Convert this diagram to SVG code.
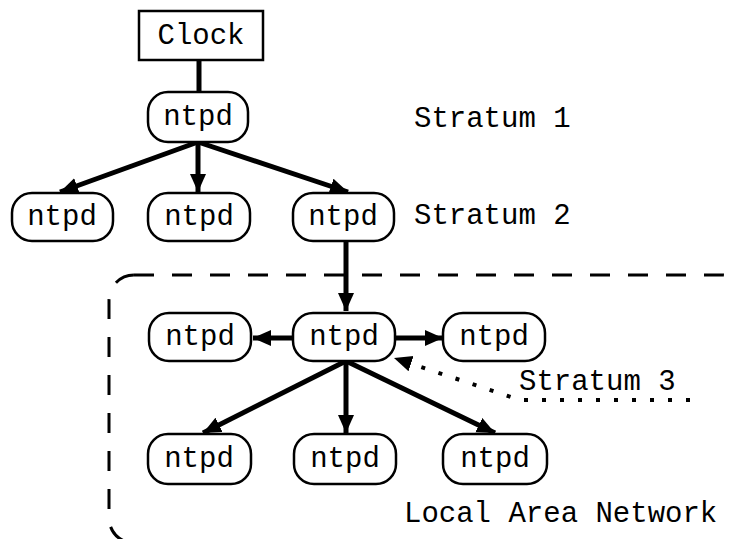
<svg xmlns="http://www.w3.org/2000/svg" width="732" height="539" viewBox="0 0 732 539">
<style>
.box{fill:#fff;stroke:#000;stroke-width:2.5}
.t{font-family:"Liberation Mono","Courier New",monospace;font-size:29px;fill:#000}
.c{text-anchor:middle}
.e{stroke:#000;stroke-width:5;fill:none}
.d{stroke:#000;stroke-width:4;fill:none;stroke-dasharray:4 14}
.lan{stroke:#000;stroke-width:3;fill:none;stroke-dasharray:20 18}
</style>
<defs>
<marker id="ah" markerUnits="userSpaceOnUse" markerWidth="20" markerHeight="18" refX="18" refY="8" orient="auto">
<path d="M0,0 L18,8 L0,16 Z" fill="#000"/>
</marker>
</defs>
<rect class="lan" x="109" y="275" width="638" height="268" rx="25"/>
<g id="connectors">
<line class="e" x1="199" y1="60" x2="199" y2="92"/>
<line class="e" x1="198" y1="142" x2="60" y2="192" marker-end="url(#ah)"/>
<line class="e" x1="198" y1="142" x2="198" y2="192" marker-end="url(#ah)"/>
<line class="e" x1="198" y1="142" x2="348" y2="192" marker-end="url(#ah)"/>
<line class="e" x1="346" y1="241" x2="346" y2="311" marker-end="url(#ah)"/>
<line class="e" x1="293" y1="338" x2="253" y2="338" marker-end="url(#ah)"/>
<line class="e" x1="395" y1="338" x2="443" y2="338" marker-end="url(#ah)"/>
<line class="e" x1="346" y1="361" x2="203" y2="433" marker-end="url(#ah)"/>
<line class="e" x1="346" y1="361" x2="346" y2="433" marker-end="url(#ah)"/>
<line class="e" x1="346" y1="361" x2="495" y2="433" marker-end="url(#ah)"/>
<polyline class="d" points="690,400 520,400 394,358" marker-end="url(#ah)"/>
</g>
<g id="clock"><rect class="box" x="139" y="11" width="124" height="49"/><text class="t c" x="201" y="44">Clock</text></g>
<g id="s1"><rect class="box" x="148" y="92" width="100" height="50" rx="20"/><text class="t c" x="198" y="125">ntpd</text></g>
<g id="s2a"><rect class="box" x="12" y="193" width="101" height="48" rx="20"/><text class="t c" x="62" y="225">ntpd</text></g>
<g id="s2b"><rect class="box" x="148" y="193" width="102" height="48" rx="20"/><text class="t c" x="199" y="225">ntpd</text></g>
<g id="s2c"><rect class="box" x="293" y="193" width="101" height="48" rx="20"/><text class="t c" x="343" y="225">ntpd</text></g>
<g id="s3a"><rect class="box" x="149" y="313" width="102" height="48" rx="20"/><text class="t c" x="200" y="345">ntpd</text></g>
<g id="s3b"><rect class="box" x="293" y="313" width="102" height="48" rx="20"/><text class="t c" x="344" y="345">ntpd</text></g>
<g id="s3c"><rect class="box" x="443" y="313" width="102" height="48" rx="20"/><text class="t c" x="494" y="345">ntpd</text></g>
<g id="s4a"><rect class="box" x="148" y="434" width="103" height="50" rx="20"/><text class="t c" x="199" y="467">ntpd</text></g>
<g id="s4b"><rect class="box" x="294" y="434" width="102" height="50" rx="20"/><text class="t c" x="345" y="467">ntpd</text></g>
<g id="s4c"><rect class="box" x="443" y="434" width="104" height="50" rx="20"/><text class="t c" x="495" y="467">ntpd</text></g>
<g id="labels">
<text class="t" x="414" y="127">Stratum 1</text>
<text class="t" x="414" y="224">Stratum 2</text>
<text class="t" x="519" y="390">Stratum 3</text>
<text class="t" x="404" y="522">Local Area Network</text>
</g>
</svg>
